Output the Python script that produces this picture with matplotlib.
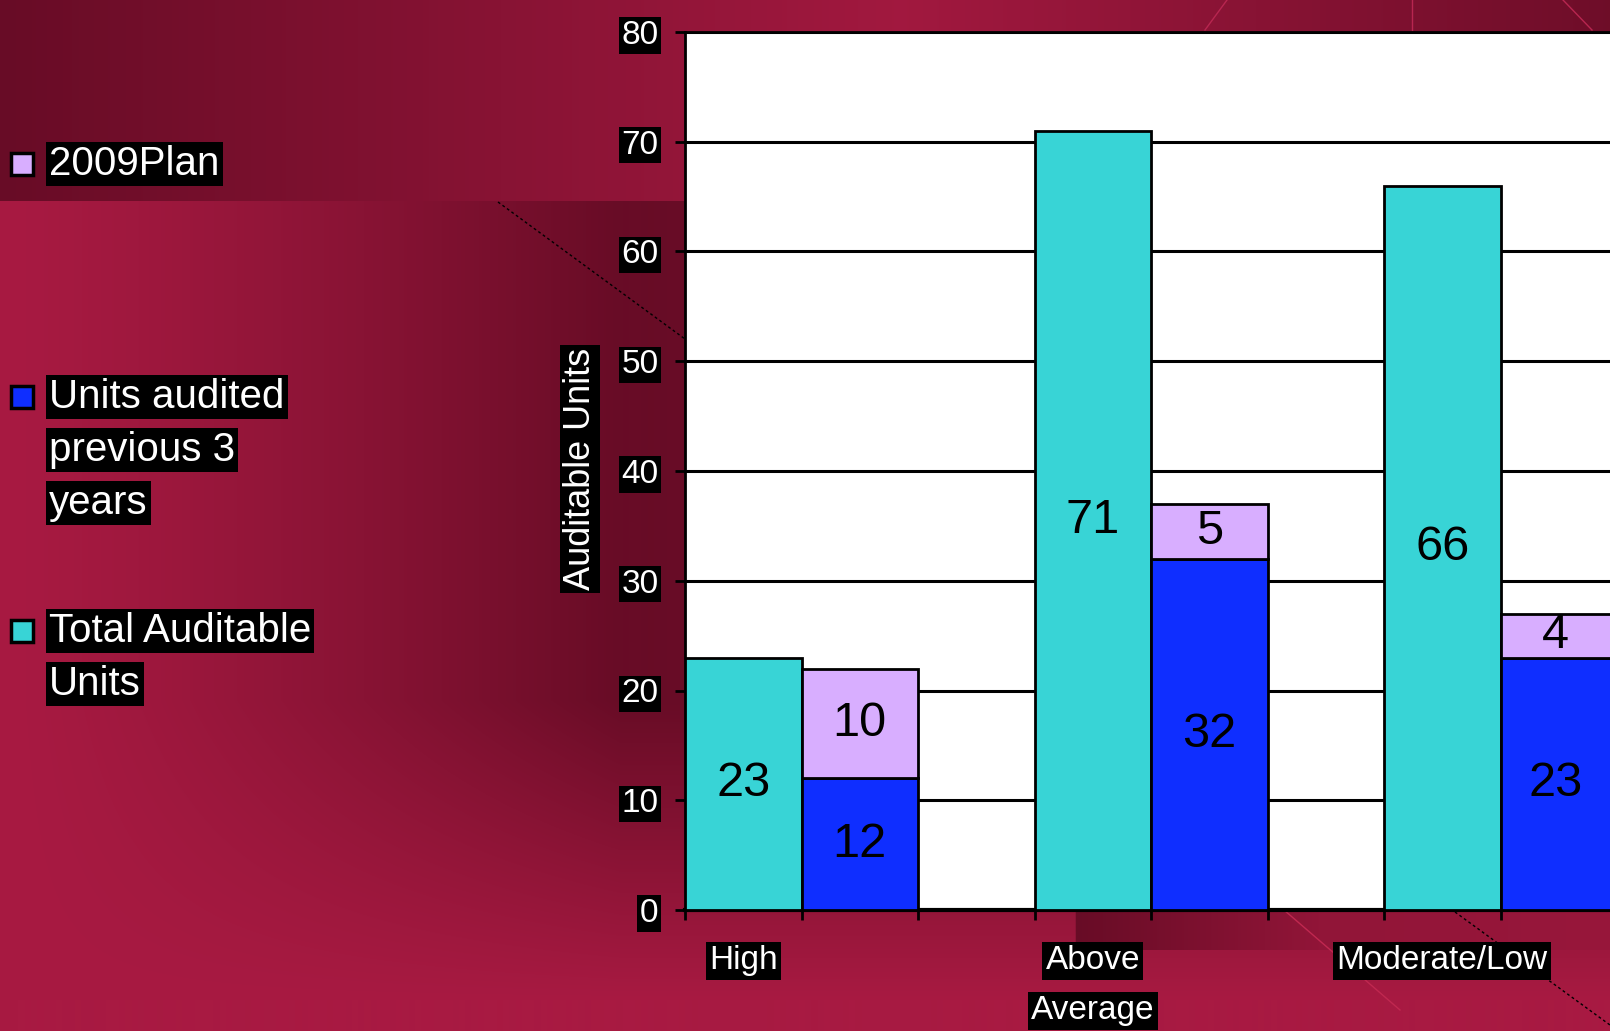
import matplotlib.pyplot as plt
import numpy as np
from matplotlib.patches import Rectangle

# data
categories = ['High', 'Above\nAverage', 'Moderate/Low']
total_units = [23, 71, 66]
audited_prev3 = [12, 32, 23]
plan_2009 = [10, 5, 4]
series_names = ['2009Plan', 'Units audited\nprevious 3\nyears', 'Total Auditable\nUnits']
y_ticks = [0, 10, 20, 30, 40, 50, 60, 70, 80]

col_total = '#38D4D6'
col_audit = '#0F2EFF'
col_plan = '#D8AEFF'

plt.rcParams['font.family'] = ['Liberation Sans', 'DejaVu Sans']

W, H = 1610, 1031
fig = plt.figure(figsize=(W / 100, H / 100), dpi=100)

# ---- background (crimson gradients) ----
bright = np.array([168, 26, 66]) / 255
dark = np.array([104, 12, 38]) / 255
xx = np.arange(W)[None, :]
yy = np.arange(H)[:, None]

# middle / lower part: bright on the left, darker toward the plot
t = np.clip(xx / 620.0, 0, 1) ** 1.3
fade = np.clip((1000 - yy) / 300.0, 0, 1)
t = t * np.where(yy < 700, 1.0, fade)
bg = bright[None, None, :] * (1 - t[..., None]) + dark[None, None, :] * t[..., None]

# top band: dark - lighter - dark
top_t = np.interp(np.arange(W), [0, 900, 1610], [1.0, 0.1, 0.9])
band = bright[None, :] * (1 - top_t[:, None]) + dark[None, :] * top_t[:, None]
bg[:201, :, :] = band[None, :, :]

# dark strip below the plot on the right
strip_t = np.interp(np.arange(W), [1075, 1320, 1610], [1.0, 0.35, 0.25])
strip = bright[None, :] * (1 - strip_t[:, None]) + dark[None, :] * strip_t[:, None]
bg[910:950, 1075:, :] = strip[None, 1075:, :]

bg_ax = fig.add_axes([0, 0, 1, 1], zorder=-5)
bg_ax.imshow(bg, extent=(0, W, H, 0), aspect='auto')
bg_ax.set_xlim(0, W)
bg_ax.set_ylim(H, 0)
bg_ax.axis('off')

# decorative lines in the background
bg_ax.plot([498, 685], [202, 339], color='black', lw=1, ls=(0, (2, 2)))
bg_ax.plot([1455, 1610], [912, 1025], color='black', lw=1, ls=(0, (2, 2)))
bg_ax.plot([1284, 1400], [910, 1010], color='#C02850', lw=1)
bg_ax.plot([1227, 1205], [0, 30], color='#B82650', lw=1)
bg_ax.plot([1412, 1412], [0, 30], color='#B82650', lw=1)
bg_ax.plot([1563, 1592], [0, 30], color='#B82650', lw=1)

# ---- chart ----
ax = fig.add_axes([685 / W, (H - 910) / H, 1 - 685 / W, (910 - 32) / H])
ax.set_facecolor('white')

x = np.arange(len(categories))
w = 1 / 3

b_total = ax.bar(x - w / 2, total_units, w, color=col_total, edgecolor='black', linewidth=2, zorder=3)
b_audit = ax.bar(x + w / 2, audited_prev3, w, color=col_audit, edgecolor='black', linewidth=2, zorder=3)
b_plan = ax.bar(x + w / 2, plan_2009, w, bottom=audited_prev3, color=col_plan,
                edgecolor='black', linewidth=2, zorder=3)
for c in (b_total, b_audit, b_plan):
    ax.bar_label(c, label_type='center', fontsize=35, color='black', zorder=4)

ax.set_xlim(-1 / 3, -1 / 3 + 925 / 349.5)
ax.set_ylim(0, 80)

ax.set_yticks(y_ticks)
ax.yaxis.grid(True, color='black', linewidth=2.2)
ax.set_axisbelow(True)
ax.tick_params(axis='y', direction='out', length=7, width=2, pad=12,
               labelsize=24, labelcolor='white')
for lab in ax.get_yticklabels():
    lab.set_bbox(dict(facecolor='black', edgecolor='none', boxstyle='square,pad=0.08'))

ax.set_xticks(np.arange(-1, 7) / 3)
ax.set_xticklabels([])
ax.tick_params(axis='x', direction='out', length=7, width=2)

for s in ['left', 'top']:
    ax.spines[s].set_linewidth(2)
ax.spines['bottom'].set_linewidth(3)
ax.spines['right'].set_visible(False)

# category labels, centred under the first bar of each group
tr = ax.get_xaxis_transform()
for i, name in enumerate(categories):
    for j, line in enumerate(name.split('\n')):
        ax.text(i - w / 2, -0.058 - j * 0.057, line, transform=tr, ha='center', va='center',
                fontsize=24, color='white', clip_on=False,
                bbox=dict(facecolor='black', edgecolor='none', boxstyle='square,pad=0.1'))

# y axis label
fig.text(580 / W, 1 - 469 / H, 'Auditable Units', rotation=90, ha='center', va='center',
         fontsize=26, color='white',
         bbox=dict(facecolor='black', edgecolor='none', boxstyle='square,pad=0.08'))

# ---- legend on the left ----
legend_rows = [(164, col_plan), (397, col_audit), (631, col_total)]
for (yc, col), name in zip(legend_rows, series_names):
    fig.patches.append(Rectangle((11 / W, 1 - (yc + 11) / H), 22 / W, 22 / H,
                                 transform=fig.transFigure, facecolor=col,
                                 edgecolor='black', linewidth=2.5))
    for j, line in enumerate(name.split('\n')):
        fig.text(49 / W, 1 - (yc + j * 53) / H, line, ha='left', va='center',
                 fontsize=29, color='white',
                 bbox=dict(facecolor='black', edgecolor='none', boxstyle='square,pad=0.08'))

fig.savefig('out.png', dpi=100)
